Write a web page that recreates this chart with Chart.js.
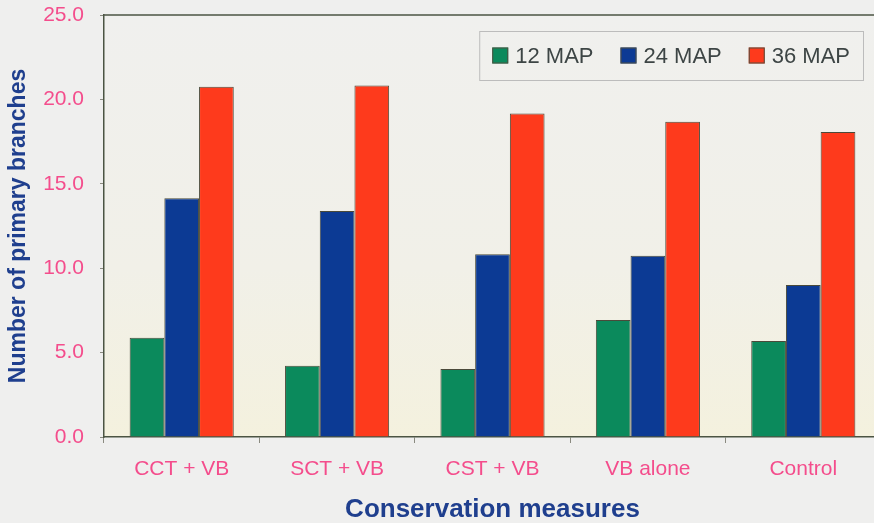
<!DOCTYPE html>
<html>
<head>
<meta charset="utf-8">
<script src="https://cdn.jsdelivr.net/npm/chart.js@4/dist/chart.umd.min.js"></script>
<style>
  html, body { margin: 0; padding: 0; background: #efefee; overflow: hidden; }
  #wrap { width: 882px; height: 523px; }
</style>
</head>
<body>
<div id="wrap"><canvas id="chart"></canvas></div>
<script>
const categories = ['CCT + VB', 'SCT + VB', 'CST + VB', 'VB alone', 'Control'];
const map12 = [5.88, 4.22, 4.03, 6.93, 5.69];
const map24 = [14.14, 13.39, 10.82, 10.74, 9.0];
const map36 = [20.75, 20.83, 19.17, 18.68, 18.07];
const seriesLabels = ['12 MAP', '24 MAP', '36 MAP'];
const yTicks = [0, 5, 10, 15, 20, 25];

const FONT = '"Liberation Sans", Arial, sans-serif';
const PINK = '#f44d8c';
const NAVY = '#1f3f8e';
const AXIS = '#4b5443';

// plot background + top frame line
const plotFrame = {
  id: 'plotFrame',
  beforeDraw(chart) {
    const { ctx, chartArea: a } = chart;
    const g = ctx.createLinearGradient(0, a.top, 0, a.bottom);
    g.addColorStop(0, '#f0f0ee');
    g.addColorStop(0.6, '#f1f0e8');
    g.addColorStop(1, '#f4f1de');
    ctx.save();
    ctx.fillStyle = g;
    ctx.fillRect(a.left, a.top, a.right - a.left, a.bottom - a.top);
    ctx.restore();
  },
  afterDraw(chart) {
    const { ctx, chartArea: a } = chart;
    ctx.save();
    ctx.strokeStyle = AXIS;
    ctx.lineWidth = 1.5;
    ctx.beginPath();
    ctx.moveTo(a.left, a.top);
    ctx.lineTo(a.right, a.top);
    ctx.stroke();
    ctx.restore();
  }
};

// legend inside the plot, top right, boxed
const boxLegend = {
  id: 'boxLegend',
  afterDraw(chart) {
    const { ctx, chartArea: a } = chart;
    const sets = chart.data.datasets;
    ctx.save();
    ctx.font = '22px ' + FONT;
    const sq = 16, gap = 7, itemGap = 27, padX = 13;
    let w = padX * 2;
    sets.forEach((d, i) => {
      w += sq + gap + ctx.measureText(d.label).width;
      if (i < sets.length - 1) w += itemGap;
    });
    const right = a.right - 18;
    const left = right - w;
    const top = a.top + 16, h = 49;
    ctx.strokeStyle = '#bcbcbc';
    ctx.lineWidth = 1;
    ctx.strokeRect(left + 0.5, top + 0.5, w, h);
    let x = left + padX;
    const cy = top + h / 2;
    sets.forEach(d => {
      ctx.fillStyle = d.backgroundColor;
      ctx.fillRect(x, cy - sq / 2, sq, sq);
      ctx.strokeStyle = '#505040';
      ctx.strokeRect(x + 0.5, cy - sq / 2 + 0.5, sq - 1, sq - 1);
      x += sq + gap;
      ctx.fillStyle = '#3d4545';
      ctx.textBaseline = 'middle';
      ctx.fillText(d.label, x, cy + 1);
      x += ctx.measureText(d.label).width + itemGap;
    });
    ctx.restore();
  }
};

new Chart('chart', {
  type: 'bar',
  data: {
    labels: categories,
    datasets: [
      { label: seriesLabels[0], data: map12, backgroundColor: '#0b8a5c' },
      { label: seriesLabels[1], data: map24, backgroundColor: '#0c3a94' },
      { label: seriesLabels[2], data: map36, backgroundColor: '#fe3a1c' }
    ].map(d => Object.assign(d, {
      borderColor: '#4a4a3a',
      borderWidth: 1,
      barPercentage: 1,
      categoryPercentage: 0.67
    }))
  },
  options: {
    responsive: true,
    maintainAspectRatio: false,
    animation: false,
    layout: { padding: { top: 15, right: 1, left: 0, bottom: 0 } },
    plugins: {
      legend: { display: false },
      tooltip: { enabled: false }
    },
    scales: {
      x: {
        offset: true,
        grid: { offset: true, drawOnChartArea: false, tickLength: 6, color: '#8a8a80' },
        border: { display: true, color: AXIS, width: 1.5 },
        ticks: { color: PINK, font: { family: FONT, size: 21 }, padding: 14 },
        title: {
          display: true, text: 'Conservation measures', color: NAVY,
          font: { family: FONT, size: 26, weight: 'bold', lineHeight: 1.1 },
          padding: { top: 0, bottom: -1 }
        },
        afterFit(scale) { scale.height = 86; }
      },
      y: {
        min: 0, max: 25,
        afterBuildTicks(scale) { scale.ticks = yTicks.map(v => ({ value: v })); },
        grid: { drawOnChartArea: false, tickLength: 4, color: '#8a8a80' },
        border: { display: true, color: AXIS, width: 1.5 },
        ticks: {
          color: PINK, font: { family: FONT, size: 21 }, padding: 16,
          callback: v => v.toFixed(1)
        },
        title: {
          display: true, text: 'Number of primary branches', color: NAVY,
          font: { family: FONT, size: 23, weight: 'bold', lineHeight: 1.2 },
          padding: { top: 5, bottom: 0 }
        },
        afterFit(scale) {
          scale.width = 104;
          scale.paddingTop = 0;
          scale.paddingBottom = 0;
        }
      }
    }
  },
  plugins: [plotFrame, boxLegend]
});
</script>
</body>
</html>
